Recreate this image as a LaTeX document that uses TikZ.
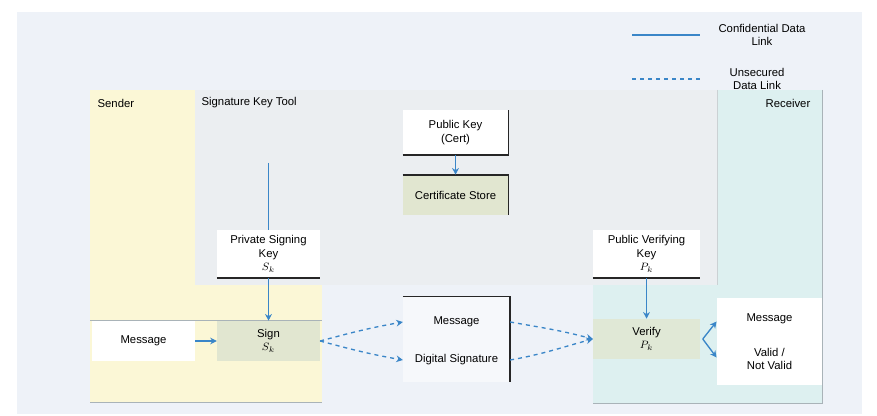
\documentclass[tikz,border=0pt]{standalone}
\usepackage{fontspec}
\setmainfont{Liberation Sans}
\usetikzlibrary{arrows.meta}

\definecolor{linkblue}{HTML}{3A86C8}
\definecolor{pagegray}{HTML}{EEF2F8}
\definecolor{toolgray}{HTML}{EBEEF1}
\definecolor{senderyellow}{HTML}{FBF7D6}
\definecolor{receiverteal}{HTML}{DDF0F0}
\definecolor{opgreen}{HTML}{E1E6D0}
\definecolor{rulegray}{HTML}{A9B3B8}

\begin{document}
\begin{tikzpicture}[x=0.75pt, y=-0.75pt,
    every node/.style={font=\fontsize{8.5}{10}\selectfont, align=center, inner sep=1pt},
    box/.style={fill=white, minimum width=77pt, minimum height=36pt},
    opbox/.style={fill=opgreen, minimum width=77pt, minimum height=30pt},
    link/.style={linkblue, line width=1pt, -{Stealth[length=5pt, width=5pt]}},
    openlink/.style={link, dash pattern=on 3pt off 3pt},
    edge/.style={line width=1.4pt, black!85}]
    \useasboundingbox (0,0) rectangle (877,416);

    % panels
    \fill[pagegray] (17,12) rectangle (862,414);
    \fill[senderyellow] (90,90) rectangle (322,402);
    \draw[rulegray] (90,402) -- (322,402);
    \fill[receiverteal] (593,90) rectangle (822,403);
    \draw[rulegray] (822,90) -- (822,403) -- (593,403);
    \fill[toolgray] (195,90) rectangle (717,285);
    \draw[rulegray!60] (717,90) -- (717,285);
    \draw[rulegray] (90,320) -- (322,320);
    \draw[rulegray] (593,320) -- (700,320);
    \draw[rulegray] (717,298) -- (822,298);

    \node[anchor=west] (sender) at (96,103) {Sender};
    \node[anchor=west] (tool) at (200,103) {Signature Key Tool};
    \node[anchor=west] (receiver) at (764,103) {Receiver};

    % legend
    \coordinate (solidA) at (632,35);
    \coordinate (solidB) at (700,35);
    \coordinate (dashA) at (632,79);
    \coordinate (dashB) at (700,79);
    \draw[linkblue, line width=1pt] (solidA) -- (solidB);
    \draw[linkblue, line width=1pt, dash pattern=on 3pt off 3pt] (dashA) -- (dashB);
    \node (solidtext) at (762,35) {Confidential Data\\Link};
    \node (dashtext) at (757,79) {Unsecured\\Data Link};

    % sender side
    \node[box, minimum height=30pt] (msg) at (143.5,341) {Message};
    \node[opbox] (sign) at (268.5,341) {Sign\\$S_k$};
    \node[box] (privkey) at (268.5,254) {Private Signing\\Key\\$S_k$};
    \coordinate (keysrc) at (268.5,163);

    % key store
    \node[box, minimum width=79pt, minimum height=34pt] (pubkey) at (455.5,132.5) {Public Key\\(Cert)};
    \node[opbox, minimum width=79pt] (store) at (455.5,195) {Certificate Store};

    % transmitted data
    \node[fill=pagegray!50!white, minimum width=80pt, minimum height=64pt] (sigbox) at (456.5,339.5) {};
    \node[minimum width=80pt] (smsg) at (456.5,322) {Message};
    \node[minimum width=80pt] (ssig) at (456.5,360) {Digital Signature};

    % receiver side
    \node[box, minimum width=80pt] (pubverif) at (646.5,254) {Public Verifying\\Key\\$P_k$};
    \node[opbox, minimum width=80pt, fill=opgreen!80!receiverteal] (verify) at (646.5,339) {Verify\\$P_k$};
    \node[box, minimum width=79pt, minimum height=65pt] (result) at (769.5,341.5) {Message\\[16pt]Valid /\\Not Valid};

    % heavy box edges
    \draw[edge] (pubkey.south west) -- (pubkey.south east) -- (pubkey.north east);
    \draw[edge] (store.north west) -- (store.north east) -- (store.south east);
    \draw[edge] (sigbox.north west) -- (sigbox.north east) -- (sigbox.south east);
    \draw[edge] (privkey.south west) -- (privkey.south east);
    \draw[edge] (pubverif.south west) -- (pubverif.south east);

    % links
    \draw[linkblue, line width=1pt] (keysrc) -- (privkey);
    \draw[link] (privkey) -- (sign);
    \draw[link] (msg) -- (sign);
    \draw[link] (pubkey) -- (store);
    \draw[link] (pubverif) -- (verify);
    \draw[openlink] (sign.east) to[out=15, in=190] (smsg.west);
    \draw[openlink] (sign.east) to[out=-15, in=170] (ssig.west);
    \draw[openlink] (smsg.east) to[out=-10, in=165] (verify.west);
    \draw[openlink] (ssig.east) to[out=10, in=195] (verify.west);
    \draw[link] ([xshift=2pt]verify.east) -- ([yshift=15pt]result.west);
    \draw[link] ([xshift=2pt]verify.east) -- ([yshift=-12pt]result.west);
\end{tikzpicture}
\end{document}
